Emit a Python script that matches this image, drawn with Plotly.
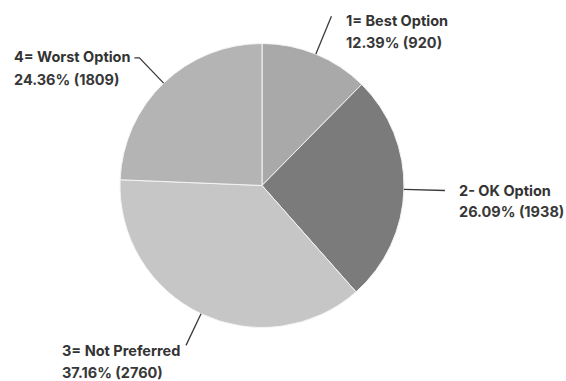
import math
import plotly.graph_objects as go

# Survey response shares
labels = ["1= Best Option", "2- OK Option", "3= Not Preferred", "4= Worst Option"]
counts = [920, 1938, 2760, 1809]
percents = [12.39, 26.09, 37.16, 24.36]
colors = ["#a9a9a9", "#7b7b7b", "#c6c6c6", "#b4b4b4"]

W, H = 566, 381
CX, CY, R = 262, 185.5, 142

# leader line settings per slice: outer radius, horizontal run (px, signed),
# text block left edge, first-line centre y, second-line centre y
leader = [
    dict(r_out=183, run=0, tx=344, y1=20, y2=42),
    dict(r_out=183, run=0, tx=457, y1=190, y2=211),
    dict(r_out=177, run=0, tx=60, y1=350.5, y2=372.5),
    dict(r_out=177, run=-5, tx=12, y1=57, y2=79),
]


def px(x):
    return x / W


def py(y):
    return 1 - y / H


fig = go.Figure(
    go.Pie(
        labels=labels,
        values=counts,
        sort=False,
        direction="clockwise",
        rotation=0,
        marker=dict(colors=colors, line=dict(color="#f4f4f4", width=1)),
        textinfo="none",
        hoverinfo="label+value+percent",
        showlegend=False,
        domain=dict(x=[px(CX - R), px(CX + R)], y=[py(CY + R), py(CY - R)]),
    )
)

total = sum(counts)
cum = 0
shapes = []
annotations = []
for lab, cnt, pct, ld in zip(labels, counts, percents, leader):
    mid = (cum + cnt / 2) / total * 2 * math.pi
    cum += cnt
    x0 = CX + R * math.sin(mid)
    y0 = CY - R * math.cos(mid)
    x1 = CX + ld["r_out"] * math.sin(mid)
    y1 = CY - ld["r_out"] * math.cos(mid)
    path = f"M {px(x0)},{py(y0)} L {px(x1)},{py(y1)}"
    if ld["run"]:
        path += f" L {px(x1 + ld['run'])},{py(y1)}"
    shapes.append(dict(type="path", xref="paper", yref="paper", path=path,
                       line=dict(color="#3a3a3a", width=1.3)))
    annotations.append(dict(x=px(ld["tx"]), y=py(ld["y1"]), xref="paper", yref="paper",
                            text=lab, showarrow=False, xanchor="left", yanchor="middle",
                            font=dict(family="Inter", size=14.5, color="#333333", weight=700)))
    annotations.append(dict(x=px(ld["tx"]), y=py(ld["y2"]), xref="paper", yref="paper",
                            text=f"{pct:.2f}% ({cnt})", showarrow=False, xanchor="left",
                            yanchor="middle",
                            font=dict(family="Inter", size=14.5, color="#383838", weight=700)))

fig.update_layout(
    width=W,
    height=H,
    margin=dict(l=0, r=0, t=0, b=0),
    paper_bgcolor="white",
    plot_bgcolor="white",
    shapes=shapes,
    annotations=annotations,
)

fig.write_html("out.html")
